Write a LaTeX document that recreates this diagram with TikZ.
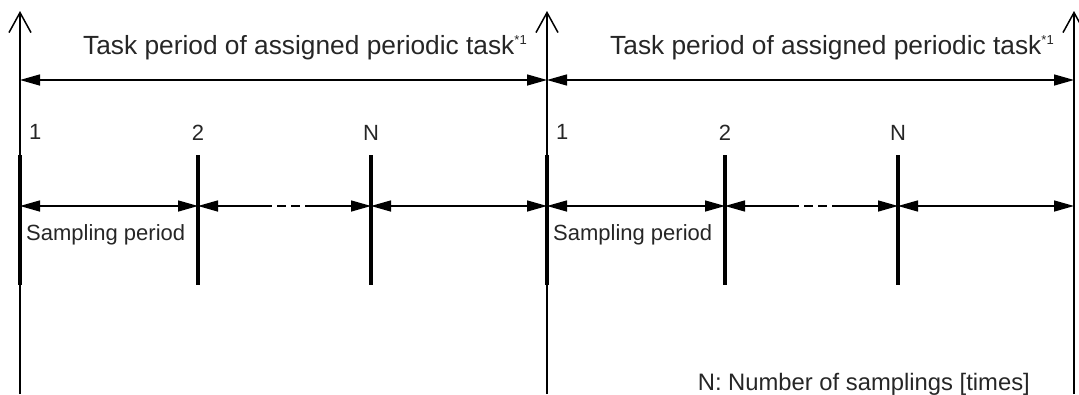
\documentclass[tikz,border=0pt]{standalone}
\usepackage{fontspec}
\setmainfont{Liberation Sans}
\usetikzlibrary{arrows.meta}
\begin{document}
\begin{tikzpicture}[x=1pt, y=-1pt,
  >={Triangle[length=20pt,width=11pt]},
  axis/.style = {line width=1.5pt, -{Straight Barb[length=20pt,width=22pt]}},
  bar/.style = {line width=4pt},
  span/.style = {line width=1.5pt},
  every node/.style = {inner sep=0pt, text=black!85,
    font=\fontsize{22}{26}\selectfont}]
  \useasboundingbox (0,0) rectangle (1079,394);
  % time axes
  \foreach \x/\n in {20/ax0, 547/ax1, 1074/ax2}
    \draw[axis] (\x,394) coordinate (\n b) -- (\x,11) coordinate (\n t);
  \foreach \o/\h in {0/L, 527/R} {
    % sampling marks
    \foreach \m/\x in {1/20, 2/198, 3/371} {
      \coordinate (\h\m t) at ({\x+\o},155);
      \coordinate (\h\m b) at ({\x+\o},285);
      \draw[bar] (\h\m t) -- (\h\m b);
    }
    \coordinate (\h1) at ({20+\o},206);
    \coordinate (\h2) at ({198+\o},206);
    \coordinate (\h3) at ({371+\o},206);
    \coordinate (\h4) at ({547+\o},206);
    \coordinate (\h d1) at ({263+\o},206);
    \coordinate (\h d2) at ({309+\o},206);
    \draw[span, <->] (\h1) -- (\h2);
    \draw[span, <-] (\h2) -- (\h d1);
    \draw[span, dash pattern=on 9pt off 5pt] (\h d1) -- (\h d2);
    \draw[span, ->] (\h d2) -- (\h3);
    \draw[span, <->] (\h3) -- (\h4);
    % task period
    \coordinate (\h p1) at ({20+\o},80);
    \coordinate (\h p2) at ({547+\o},80);
    \draw[span, <->] (\h p1) -- (\h p2);
    \node[anchor=base west, font=\fontsize{26.3}{30}\selectfont]
      (\h task) at ({83+\o},54) {Task period of assigned periodic task\textsuperscript{\fontsize{13}{15}\selectfont *1}};
    \node[anchor=base west] (\h n1) at ({29+\o},139) {1};
    \node[anchor=base] (\h n2) at ({198+\o},140) {2};
    \node[anchor=base] (\h n3) at ({371+\o},140) {N};
    \node[anchor=base west] (\h samp) at ({26+\o},240) {Sampling period};
  }
  \node[anchor=base east, font=\fontsize{23.8}{28}\selectfont] (note) at (1030,390)
    {N: Number of samplings [times]};
\end{tikzpicture}
\end{document}
